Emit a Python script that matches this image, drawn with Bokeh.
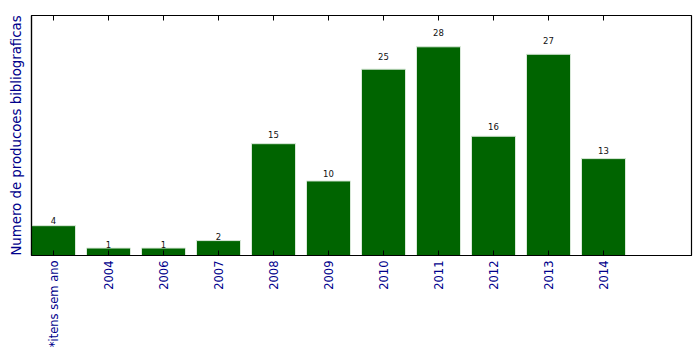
import math
from bokeh.plotting import figure
from bokeh.models import FixedTicker, LinearAxis, Range1d, ColumnDataSource
from bokeh.embed import file_html
from bokeh.resources import INLINE

categories = ["*itens sem ano", "2004", "2006", "2007", "2008", "2009",
              "2010", "2011", "2012", "2013", "2014"]
counts = [4, 1, 1, 2, 15, 10, 25, 28, 16, 27, 13]
y_label = "Numero de producoes bibliograficas"

bar_width = 0.8
idx = list(range(len(categories)))
centers = [i + bar_width / 2 for i in idx]
label_y = [1.05 * c for c in counts]

src = ColumnDataSource(dict(x=centers, top=counts, ly=label_y,
                            txt=[str(c) for c in counts]))

p = figure(width=699, height=354, output_backend="svg", toolbar_location=None,
           x_range=Range1d(0, len(categories) + 1),
           y_range=Range1d(0, max(counts) * 1.15),
           min_border_left=31, min_border_right=8, min_border_top=15,
           min_border_bottom=99)
p.background_fill_color = "white"
p.border_fill_color = "white"
p.outline_line_color = "black"
p.outline_line_width = 1.2
p.xgrid.visible = False
p.ygrid.visible = False

p.vbar(x="x", top="top", width=bar_width, bottom=0, source=src,
       fill_color="#006400", line_color="#d8e8d8", line_width=1)
p.text(x="x", y="ly", text="txt", source=src, text_align="center",
       text_baseline="bottom", text_font_size="8.5px", text_color="#111111",
       text_font={"value": "DejaVu Sans"})

ticker = FixedTicker(ticks=centers)
xa = p.xaxis[0]
xa.ticker = ticker
xa.major_label_overrides = {c: lab for c, lab in zip(centers, categories)}
xa.major_label_orientation = math.pi / 2
xa.major_label_text_color = "#00008B"
xa.major_label_text_font = "DejaVu Sans"
xa.major_label_text_font_size = "11.5px"
xa.major_label_standoff = 5
xa.major_tick_in = 5
xa.major_tick_out = 0
xa.minor_tick_line_color = None
xa.axis_line_color = "black"
xa.axis_line_width = 1.2

top_axis = LinearAxis(ticker=ticker,
                      major_label_overrides={c: "" for c in centers},
                      major_label_text_color=None,
                      major_tick_in=5, major_tick_out=0,
                      minor_tick_line_color=None, axis_line_color=None,
                      major_label_standoff=0)
p.add_layout(top_axis, "above")

ya = p.yaxis[0]
ya.ticker = FixedTicker(ticks=[])
ya.major_label_text_color = None
ya.major_tick_in = 0
ya.major_tick_out = 0
ya.minor_tick_line_color = None
ya.axis_line_color = "black"
ya.axis_line_width = 1.2
ya.axis_label = y_label
ya.axis_label_text_color = "#00008B"
ya.axis_label_text_font = "DejaVu Sans"
ya.axis_label_text_font_style = "normal"
ya.axis_label_text_font_size = "13.3px"
ya.axis_label_standoff = 8

open("out.html", "w").write(file_html(p, INLINE))
